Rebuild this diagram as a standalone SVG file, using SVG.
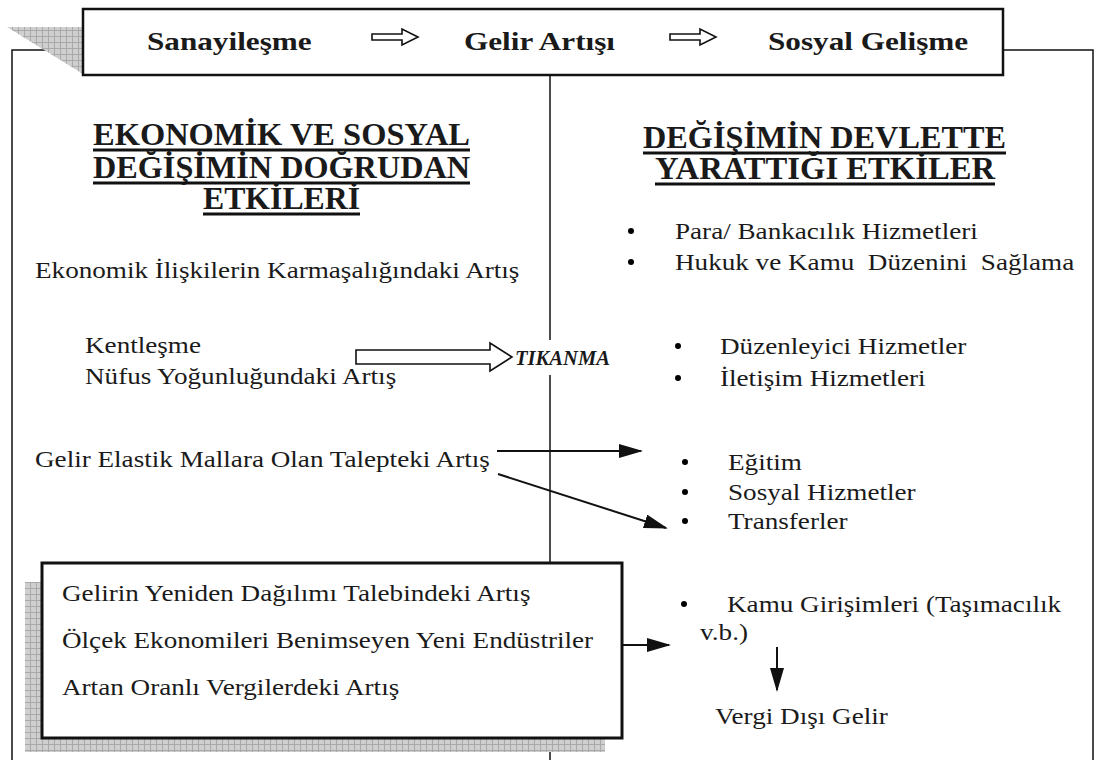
<svg xmlns="http://www.w3.org/2000/svg" width="1100" height="760" viewBox="0 0 1100 760">
<defs>
<pattern id="grid" width="6" height="6" patternUnits="userSpaceOnUse">
<rect width="6" height="6" fill="#cfcfcf"/>
<path d="M0 0.5H6M0.5 0V6" stroke="#a9a9a9" stroke-width="1"/>
</pattern>
<marker id="ahb" markerWidth="24" markerHeight="14" refX="22" refY="7" orient="auto" markerUnits="userSpaceOnUse">
<path d="M0 0L24 7L0 14Z" fill="#111"/>
</marker>
<style>
text{fill:#1a1a1a}
.top{font-size:26px;font-weight:bold}
.hd{font-size:32px;font-weight:bold}
.ul{stroke:#111;stroke-width:3}
.b{font-size:23px}
.tk{font-size:22px;font-weight:bold;font-style:italic}
.ln{stroke:#111;stroke-width:1.5;fill:none}
.ar{stroke:#111;stroke-width:2;fill:none}
.hol{fill:#fff;stroke:#111;stroke-width:1.6}
</style>
</defs>
<rect width="1100" height="760" fill="#fff"/>
<g font-family="'Liberation Serif', 'Times New Roman', 'DejaVu Serif', serif">

<g id="frame">
<path d="M12 760V50H83M1003 50H1093V760" class="ln"/>
<line x1="550" y1="75" x2="550" y2="340" class="ln" stroke-width="1.3"/>
<line x1="550" y1="375" x2="550" y2="760" class="ln" stroke-width="1.3"/>
</g>

<g id="top-box">
<polygon points="7,27 83,27 83,74" fill="url(#grid)"/>
<rect x="83" y="9" width="920" height="66" fill="#fff" stroke="#111" stroke-width="2.5"/>
<text class="top" transform="translate(147 50) scale(1.2 1)">Sanayileşme</text>
<path class="hol" d="M372 34H402V29L418 37L402 45V40H372Z"/>
<text class="top" transform="translate(464 50) scale(1.2 1)">Gelir Artışı</text>
<path class="hol" d="M670 34H700V29L716 37L700 45V40H670Z"/>
<text class="top" transform="translate(768 50) scale(1.2 1)">Sosyal Gelişme</text>
</g>

<g id="left-heading">
<text class="hd" x="93" y="145" textLength="377" lengthAdjust="spacingAndGlyphs">EKONOMİK VE SOSYAL</text>
<line class="ul" x1="93" y1="150" x2="470" y2="150"/>
<text class="hd" x="93" y="178" textLength="377" lengthAdjust="spacingAndGlyphs">DEĞİŞİMİN DOĞRUDAN</text>
<line class="ul" x1="93" y1="183" x2="470" y2="183"/>
<text class="hd" x="203" y="209" textLength="157" lengthAdjust="spacingAndGlyphs">ETKİLERİ</text>
<line class="ul" x1="203" y1="214" x2="360" y2="214"/>
</g>

<g id="right-heading">
<text class="hd" x="643" y="148" textLength="363" lengthAdjust="spacingAndGlyphs">DEĞİŞİMİN DEVLETTE</text>
<line class="ul" x1="643" y1="153" x2="1006" y2="153"/>
<text class="hd" x="655" y="179" textLength="340" lengthAdjust="spacingAndGlyphs">YARATTIĞI ETKİLER</text>
<line class="ul" x1="655" y1="184" x2="995" y2="184"/>
</g>

<g id="n-ekonomik">
<text class="b" transform="translate(35 278) scale(1.18 1)">Ekonomik İlişkilerin Karmaşalığındaki Artış</text>
</g>

<g id="n-kentlesme">
<text class="b" transform="translate(85 353) scale(1.18 1)">Kentleşme</text>
<text class="b" transform="translate(85 384) scale(1.18 1)">Nüfus Yoğunluğundaki Artış</text>
</g>

<g id="n-tikanma">
<text class="tk" x="515" y="365" textLength="95" lengthAdjust="spacingAndGlyphs">TIKANMA</text>
</g>

<g id="n-gelir-elastik">
<text class="b" transform="translate(35 467) scale(1.18 1)">Gelir Elastik Mallara Olan Talepteki Artış</text>
</g>

<g id="n-box">
<rect x="25" y="582" width="580" height="170" fill="url(#grid)"/>
<rect x="42" y="563" width="580" height="175" fill="#fff" stroke="#111" stroke-width="3"/>
<text class="b" transform="translate(62 601) scale(1.18 1)">Gelirin Yeniden Dağılımı Talebindeki Artış</text>
<text class="b" transform="translate(62 648) scale(1.18 1)">Ölçek Ekonomileri Benimseyen Yeni Endüstriler</text>
<text class="b" transform="translate(62 695) scale(1.18 1)">Artan Oranlı Vergilerdeki Artış</text>
</g>

<g id="n-para">
<circle cx="631" cy="231" r="3"/>
<text class="b" transform="translate(675 239) scale(1.18 1)">Para/ Bankacılık Hizmetleri</text>
<circle cx="631" cy="262" r="3"/>
<text class="b" transform="translate(675 270) scale(1.18 1)" xml:space="preserve">Hukuk ve Kamu  Düzenini  Sağlama</text>
</g>

<g id="n-duzenleyici">
<circle cx="678" cy="346" r="3"/>
<text class="b" transform="translate(720 354) scale(1.18 1)">Düzenleyici Hizmetler</text>
<circle cx="678" cy="378" r="3"/>
<text class="b" transform="translate(720 386) scale(1.18 1)">İletişim Hizmetleri</text>
</g>

<g id="n-egitim">
<circle cx="685" cy="462" r="3"/>
<text class="b" transform="translate(728 470) scale(1.18 1)">Eğitim</text>
<circle cx="685" cy="492" r="3"/>
<text class="b" transform="translate(728 500) scale(1.18 1)">Sosyal Hizmetler</text>
<circle cx="685" cy="521" r="3"/>
<text class="b" transform="translate(728 529) scale(1.18 1)">Transferler</text>
</g>

<g id="n-kamu">
<circle cx="684" cy="604" r="3"/>
<text class="b" transform="translate(727 612) scale(1.18 1)">Kamu Girişimleri (Taşımacılık</text>
<text class="b" transform="translate(700 640) scale(1.18 1)">v.b.)</text>
</g>

<g id="n-vergi">
<text class="b" transform="translate(715 724) scale(1.18 1)">Vergi Dışı Gelir</text>
</g>

<g id="connectors">
<path class="hol" d="M356 350H490V343L512 357L490 371V364H356Z"/>
<line x1="497" y1="451" x2="641" y2="451" class="ar" marker-end="url(#ahb)"/>
<line x1="498" y1="474" x2="666" y2="528" class="ar" marker-end="url(#ahb)"/>
<line x1="622" y1="645" x2="669" y2="645" class="ar" marker-end="url(#ahb)"/>
<line x1="777" y1="647" x2="777" y2="690" class="ar" marker-end="url(#ahb)"/>
</g>
</g>
</svg>
